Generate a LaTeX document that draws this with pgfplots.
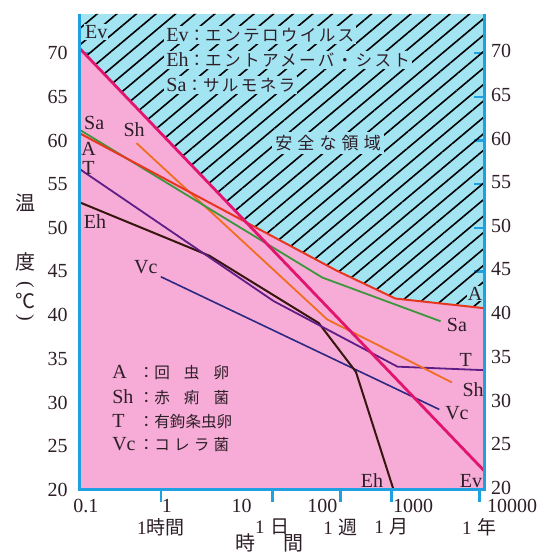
\documentclass[border=0pt]{standalone}
\usepackage{graphicx}
\usepackage{pgfplots}
\pgfplotsset{compat=1.18}
\usepackage{fontspec}
\setmainfont{Liberation Serif}
\newfontfamily\jp{Noto Sans CJK JP}
\newfontfamily\jpa[LetterSpace=14]{Noto Sans CJK JP}
\newfontfamily\jpb[LetterSpace=30]{Noto Sans CJK JP}
\usetikzlibrary{patterns.meta}
\definecolor{pinkbg}{RGB}{246,172,214}
\definecolor{cyanbg}{RGB}{163,228,242}
\definecolor{axblue}{RGB}{30,160,225}
\definecolor{txt}{RGB}{45,30,40}
\definecolor{cEv}{RGB}{225,20,110}
\definecolor{cA}{RGB}{230,55,30}
\definecolor{cSa}{RGB}{60,150,60}
\definecolor{cSh}{RGB}{240,110,30}
\definecolor{cT}{RGB}{95,30,135}
\definecolor{cEh}{RGB}{55,22,15}
\definecolor{cVc}{RGB}{45,40,130}
\begin{document}
\begin{tikzpicture}
\begin{axis}[
  name=main,
  scale only axis,
  width=202pt, height=238pt,
  xmode=log, xmin=0.1, xmax=10000, ymin=20, ymax=74.5,
  axis line style={draw=none},
  axis background/.style={fill=cyanbg},
  clip=false,
  xminorticks=false, yminorticks=false,
  xtick={0.1,1,10,100,1000,10000},
  xticklabels={\hspace*{6pt}0.1,\hspace*{6pt}1,10,100,\hspace*{10pt}1000,\raisebox{-2pt}{\hspace*{28pt}10000}},
  xtick pos=left,
  ytick={20,25,...,70},
  ytick pos=both,
  tick align=inside,
  major tick length=5pt,
  every tick/.style={axblue, line width=1.2pt},
  tick label style={font=\fontsize{10}{12}\selectfont, text=txt},
  xticklabel style={yshift=-1pt},
  yticklabel style={/pgf/number format/assume math mode=true, xshift=-2.6pt},
  extra x ticks={1,24,168,720,8760},
  extra x tick labels={1{\jp 時間},1\hspace{3pt}{\jp 日},1\hspace{3pt}{\jp 週},1\hspace{3pt}{\jp 月},1\hspace{3pt}{\jp 年}},
  extra x tick style={tick align=outside, major tick length=6pt,
     xticklabel style={yshift=-4pt, font=\fontsize{9.5}{11}\selectfont}},
]
% safe (hatched) region
\addplot[draw=none, pattern={Lines[angle=40,distance=6.3pt,line width=0.8pt]}, pattern color=black]
  coordinates {(0.1,74.5) (0.1,70.5) (11.4,50.65) (150,45.1) (800,41.9) (10000,40.8) (10000,74.5)} -- cycle;
% unsafe region
\addplot[draw=none, fill=pinkbg]
  coordinates {(0.1,20) (0.1,70.5) (11.4,50.65) (150,45.1) (800,41.9) (10000,40.8) (10000,20)} -- cycle;

% curves
\addplot[cVc, line width=0.8pt] coordinates {(1,44.4) (2800,29.2)};
\addplot[cEh, line width=1pt] coordinates {(0.1,52.9) (4,46.8) (90,39.1) (260,33.5) (760,20)};
\addplot[cT, line width=0.9pt] coordinates {(0.1,56.7) (25,41.6) (850,34.1) (10000,33.7)};
\addplot[cSh, line width=0.9pt] coordinates {(0.5,59.7) (115,39.5) (4000,32.3)};
\addplot[cSa, line width=0.9pt] coordinates {(0.1,61.2) (100,44.3) (2900,39.3)};
\addplot[cA, line width=1pt] coordinates {(0.1,60.8) (150,45.1) (800,41.9) (10000,40.8)};
\addplot[cEv, line width=1.4pt] coordinates {(0.1,70.5) (10000,22.2)};

% axis lines
\draw[axblue, line width=1.5pt] (rel axis cs:0,1) -- (rel axis cs:0,0) -- (rel axis cs:1,0) -- (rel axis cs:1,1);

% legend texts on the safe region
\begin{scope}[every node/.style={anchor=west, inner sep=1pt, fill=cyanbg, text=txt}]
\node at (rel axis cs:0.208,0.956) {\fontsize{10}{12}\selectfont Ev{\fontsize{8.3}{10}\jp ：}{\fontsize{8.3}{10}\jpa エンテロウイルス}};
\node at (rel axis cs:0.208,0.903) {\fontsize{10}{12}\selectfont Eh{\fontsize{8.3}{10}\jp ：}{\fontsize{8.3}{10}\jpa エントアメーバ・シスト}};
\node at (rel axis cs:0.208,0.851) {\fontsize{10}{12}\selectfont Sa{\fontsize{8.3}{10}\jp ：}{\fontsize{8.3}{10}\jpa サルモネラ}};
\end{scope}
\node[fill=cyanbg, inner sep=1.5pt, text=txt] at (rel axis cs:0.614,0.729) {\fontsize{8.5}{10}\jpb 安全な領域};

% curve labels
\begin{scope}[every node/.style={inner sep=0.5pt, text=txt, font=\fontsize{10}{12}\selectfont}]
\node[fill=cyanbg] at (rel axis cs:0.040,0.962) {Ev};
\node at (rel axis cs:0.968,0.019) {Ev};
\node at (rel axis cs:0.035,0.771) {Sa};
\node at (rel axis cs:0.933,0.347) {Sa};
\node at (rel axis cs:0.134,0.756) {Sh};
\node at (rel axis cs:0.973,0.210) {Sh};
\node at (rel axis cs:0.021,0.716) {A};
\node[fill=cyanbg] at (rel axis cs:0.978,0.412) {A};
\node at (rel axis cs:0.021,0.676) {T};
\node at (rel axis cs:0.955,0.273) {T};
\node at (rel axis cs:0.037,0.563) {Eh};
\node at (rel axis cs:0.723,0.019) {Eh};
\node at (rel axis cs:0.163,0.468) {Vc};
\node at (rel axis cs:0.933,0.162) {Vc};
\end{scope}

% lower-left legend
\begin{scope}[every node/.style={anchor=west, inner sep=0pt, text=txt, font=\fontsize{10}{12}\selectfont}]
\node at (rel axis cs:0.079,0.246) {\makebox[13pt][l]{A}{\fontsize{8}{10}\jp ：}\makebox[37.5pt][s]{\fontsize{7.8}{10}\jp 回\hfill 虫\hfill 卵}};
\node at (rel axis cs:0.079,0.195) {\makebox[13pt][l]{Sh}{\fontsize{8}{10}\jp ：}\makebox[37.5pt][s]{\fontsize{7.8}{10}\jp 赤\hfill 痢\hfill 菌}};
\node at (rel axis cs:0.079,0.143) {\makebox[13pt][l]{T}{\fontsize{8}{10}\jp ：}\makebox[37.5pt][s]{\fontsize{7.8}{10}\jp 有\hfill 鉤\hfill 条\hfill 虫\hfill 卵}};
\node at (rel axis cs:0.079,0.095) {\makebox[13pt][l]{Vc}{\fontsize{8}{10}\jp ：}\makebox[37.5pt][s]{\fontsize{7.8}{10}\jp コ\hfill レ\hfill ラ\hfill 菌}};
\end{scope}

% axis titles
\begin{scope}[every node/.style={inner sep=0pt, text=txt, font=\fontsize{10}{12}\jp}]
\node at (rel axis cs:-0.136,0.603) {温};
\node at (rel axis cs:-0.136,0.479) {度};
\node[font=\fontsize{10}{12}\selectfont] at (rel axis cs:-0.136,0.430) {\rotatebox{-90}{(}};
\node at (rel axis cs:-0.136,0.397) {℃};
\node[font=\fontsize{10}{12}\selectfont] at (rel axis cs:-0.136,0.362) {\rotatebox{-90}{)}};
\node[font=\fontsize{10}{12}\jp] at (rel axis cs:0.47,-0.111) {時\hspace{14pt}間};
\end{scope}

\coordinate (bbl) at (rel axis cs:-0.198,-0.139);
\coordinate (btr) at (rel axis cs:1.151,1.029);
\end{axis}
\begin{axis}[
  scale only axis,
  width=202pt, height=238pt,
  xmode=log, xmin=0.1, xmax=10000, ymin=20, ymax=74.5,
  axis line style={draw=none},
  xtick=\empty, xminorticks=false, yminorticks=false,
  ytick={20,25,...,70},
  yticklabel pos=right,
  major tick length=0pt,
  ytick style={draw=none},
  tick label style={font=\fontsize{10}{12}\selectfont, text=txt},
  yticklabel style={/pgf/number format/assume math mode=true, yshift=1pt},
]
\end{axis}
\pgfresetboundingbox
\path (bbl) rectangle (btr);
\end{tikzpicture}
\end{document}
